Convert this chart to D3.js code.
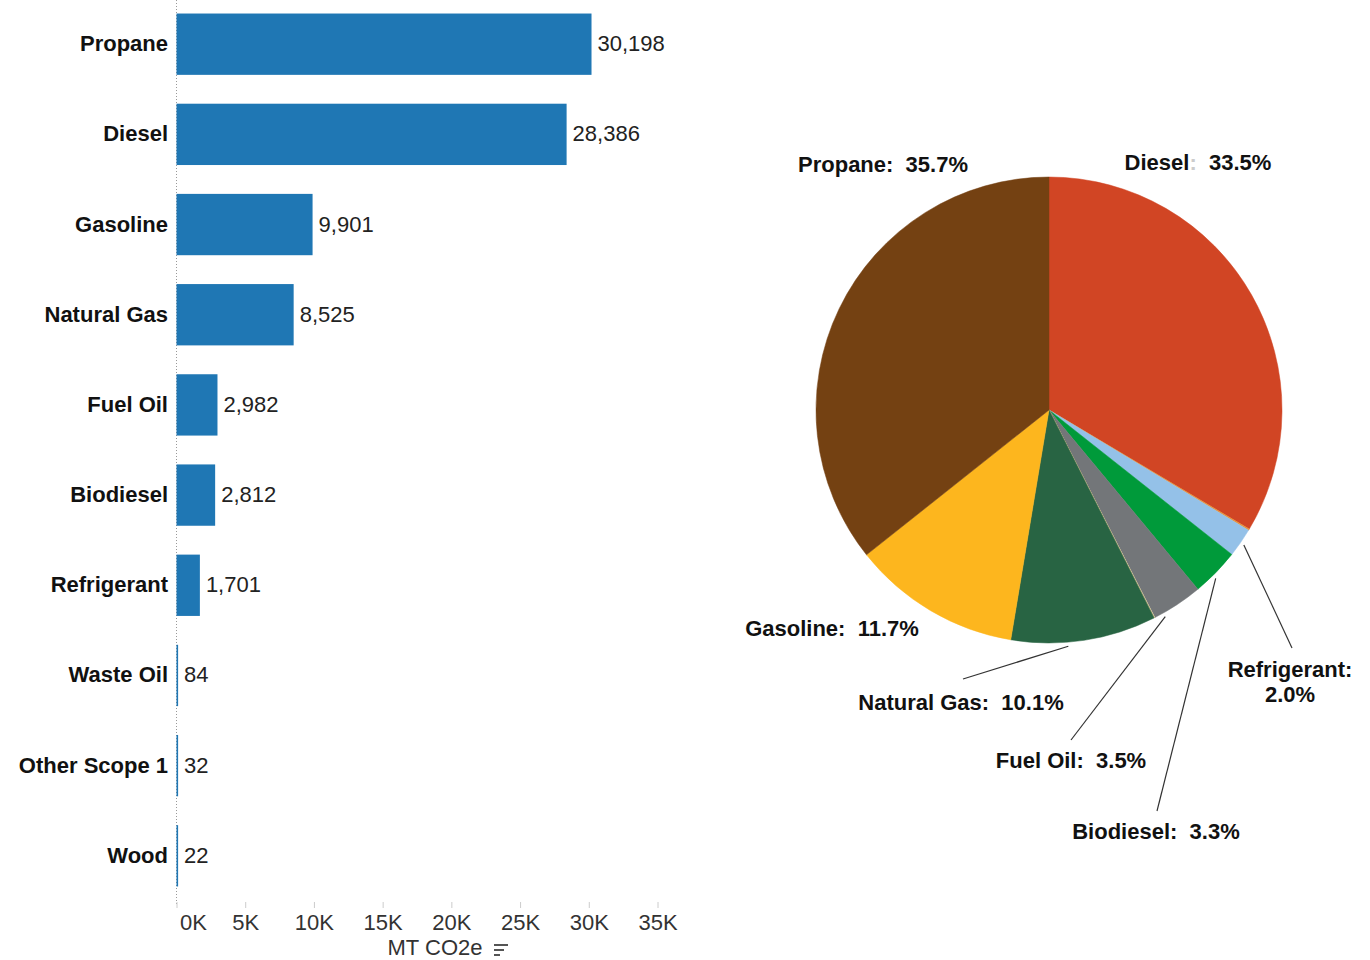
<!DOCTYPE html>
<html><head><meta charset="utf-8">
<script src="https://cdn.jsdelivr.net/npm/d3@7"></script>
<style>
body{margin:0;background:#fff;}
svg text{font-family:"Liberation Sans",Arial,sans-serif;}
</style></head>
<body><svg id="c" width="1370" height="960"></svg>
<script>
// ---- data ----
const categories = ["Propane","Diesel","Gasoline","Natural Gas","Fuel Oil","Biodiesel","Refrigerant","Waste Oil","Other Scope 1","Wood"];
const values = [30198,28386,9901,8525,2982,2812,1701,84,32,22];
const tickValues = [0,5000,10000,15000,20000,25000,30000,35000];
const tickLabels = ["0K","5K","10K","15K","20K","25K","30K","35K"];
const axisTitle = "MT CO2e";
// pie order (clockwise from 12 o'clock)
const pieOrder = ["Diesel","Waste Oil","Refrigerant","Biodiesel","Fuel Oil","Other Scope 1","Wood","Natural Gas","Gasoline","Propane"];
const pieColors = ["#d14524","#e8923a","#94c1e8","#009a3a","#737679","#d9cfa6","#c9b27c","#286443","#fdb61e","#744112"];
const labelled = ["Propane","Diesel","Gasoline","Natural Gas","Fuel Oil","Biodiesel","Refrigerant"];

const svg = d3.select("#c");
const valueOf = new Map(categories.map((c,i)=>[c,values[i]]));

// ---- bar chart ----
const x = d3.scaleLinear().domain([0,35000]).range([176.5,657.5]);
const y = d3.scaleBand().domain(categories).range([0,900]).paddingInner(0.32).paddingOuter(0.15);
const fmt = d3.format(",");

svg.append("line").attr("x1",176.5).attr("x2",176.5).attr("y1",0).attr("y2",906)
  .attr("stroke","#999").attr("stroke-width",1).attr("stroke-dasharray","1,2");

const bar = svg.append("g");
bar.selectAll("rect").data(categories).join("rect")
  .attr("x",x(0)).attr("y",d=>y(d)).attr("height",y.bandwidth())
  .attr("width",d=>Math.max(1.6,x(valueOf.get(d))-x(0)))
  .attr("fill","#1f77b4");
bar.selectAll("text.v").data(categories).join("text").attr("class","v")
  .attr("x",d=>x(0)+Math.max(1.6,x(valueOf.get(d))-x(0))+6)
  .attr("y",d=>y(d)+y.bandwidth()/2+7)
  .attr("font-size",22).attr("fill","#222").text(d=>fmt(valueOf.get(d)));
bar.selectAll("text.c").data(categories).join("text").attr("class","c")
  .attr("x",168).attr("y",d=>y(d)+y.bandwidth()/2+7)
  .attr("text-anchor","end").attr("font-size",22).attr("font-weight","bold").attr("fill","#111")
  .text(d=>d);

// axis
const ax = svg.append("g").attr("transform","translate(0,902)")
  .call(d3.axisBottom(x).tickValues(tickValues).tickSize(6).tickFormat((d,i)=>tickLabels[i]));
ax.select(".domain").remove();
ax.selectAll(".tick line").attr("stroke","#ccc");
ax.selectAll(".tick text").attr("font-size",22).attr("fill","#333").attr("dy",0).attr("y",28)
  .attr("font-family","Liberation Sans, Arial, sans-serif");
ax.selectAll(".tick").filter(d=>d===0).select("text").attr("text-anchor","start").attr("x",3);

svg.append("text").attr("x",435).attr("y",955).attr("text-anchor","middle")
  .attr("font-size",22).attr("fill","#333").text(axisTitle);
// sort icon
const si = svg.append("g").attr("fill","#555");
[[14,0],[10,5],[6,10]].forEach(([w,dy])=>si.append("rect").attr("x",494).attr("y",944+dy).attr("width",w).attr("height",2));

// ---- pie ----
const cx = 1049, cy = 410, R = 233;
const total = d3.sum(values);
const pie = d3.pie().sort(null).value(d=>valueOf.get(d));
const arcs = pie(pieOrder);
const arc = d3.arc().innerRadius(0).outerRadius(R);
const pg = svg.append("g").attr("transform",`translate(${cx},${cy})`);
pg.selectAll("path").data(arcs).join("path")
  .attr("d",arc).attr("fill",(d,i)=>pieColors[i]).attr("stroke",(d,i)=>pieColors[i]).attr("stroke-width",0.5);

// label layout (annotation placement)
const layout = {
  "Propane":{x:883,y:172},
  "Diesel":{x:1198,y:170,faintColon:true},
  "Gasoline":{x:832,y:636},
  "Natural Gas":{x:961,y:710,lx:963,ly:679,da:4},
  "Fuel Oil":{x:1071,y:768,lx:1071,ly:740,da:4},
  "Biodiesel":{x:1156,y:839,lx:1157,ly:811,da:1},
  "Refrigerant":{x:1290,y:677,lx:1292,ly:648,two:true}
};
const lg = svg.append("g").attr("font-size",22).attr("font-weight","bold").attr("fill","#111");
arcs.forEach(a=>{
  const name = a.data; if(!labelled.includes(name)) return;
  const L = layout[name];
  const pct = (valueOf.get(name)/total*100).toFixed(1)+"%";
  if(L.lx!==undefined){
    const ang = (a.startAngle+a.endAngle)/2 + (L.da||0)*Math.PI/180;
    const r0 = R+4;
    lg.append("line").attr("x1",cx+r0*Math.sin(ang)).attr("y1",cy-r0*Math.cos(ang))
      .attr("x2",L.lx).attr("y2",L.ly).attr("stroke","#333").attr("stroke-width",1.2);
  }
  if(L.two){
    lg.append("text").attr("x",L.x).attr("y",L.y).attr("text-anchor","middle").text(name+":");
    lg.append("text").attr("x",L.x).attr("y",L.y+25).attr("text-anchor","middle").text(pct);
  } else {
    const t = lg.append("text").attr("x",L.x).attr("y",L.y).attr("text-anchor","middle").attr("xml:space","preserve").style("white-space","pre");
    t.append("tspan").text(name);
    t.append("tspan").attr("fill",L.faintColon?"#ccc":"#111").text(":");
    t.append("tspan").text("  "+pct);
  }
});
</script></body></html>
